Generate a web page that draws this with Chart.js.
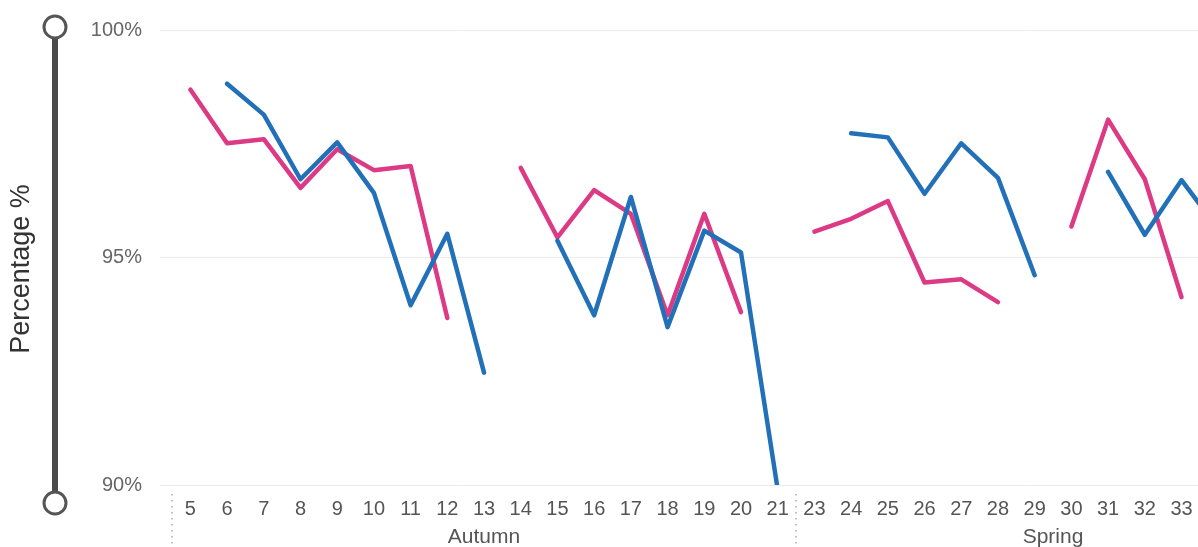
<!DOCTYPE html>
<html>
<head>
<meta charset="utf-8">
<title>Percentage by week</title>
<script src="https://cdn.jsdelivr.net/npm/chart.js@4"></script>
<style>
    html, body { margin: 0; padding: 0; background: #fff; overflow: hidden; }
    #wrap { position: relative; width: 1320px; height: 547px; }
</style>
</head>
<body>
<div id="wrap"><canvas id="percentChart"></canvas></div>

<script>

// =====================
// DATA
// =====================

const CATEGORIES = [
    '5', '6', '7', '8', '9', '10', '11', '12', '13', '14', '15', '16', '17', '18', '19', '20', '21',
    '23', '24', '25', '26', '27', '28', '29', '30', '31', '32', '33', '34', '35', '36'
];

const SERIES_BLUE = [
    null, 98.82, 98.14, 96.72, 97.53, 96.42, 93.95, 95.52, 92.47, null, 95.37, 93.73, 96.33, 93.47, 95.59, 95.11, 89.9,
    null, 97.73, 97.64, 96.40, 97.51, 96.75, 94.61, null, 96.88, 95.50, 96.70, 95.63, null, null
];

const SERIES_PINK = [
    98.69, 97.51, 97.60, 96.53, 97.38, 96.92, 97.01, 93.67, null, 96.97, 95.44, 96.48, 95.96, 93.73, 95.96, 93.80, null,
    95.57, 95.85, 96.24, 94.45, 94.52, 94.02, null, 95.68, 98.03, 96.72, 94.13, null, null, null
];

const Y_TICKS = [90, 95, 100];

const GROUP_NAMES = ['Autumn', 'Spring'];
const GROUP_FIRST = ['5', '23'];
const GROUP_LAST = ['21', '36'];

const Y_TITLE = 'Percentage %';

const FONT = "'Liberation Sans', Arial, sans-serif";


// =====================
// DECORATIONS
// =====================

const decorPlugin = {
    id: 'decor',
    beforeDraw(chart) {
        const ctx = chart.ctx;
        ctx.save();

        // slider-looking bar on the left
        const sx = 55, top = 27, bottom = 503;
        ctx.strokeStyle = '#4a4a4a';
        ctx.lineWidth = 6;
        ctx.beginPath();
        ctx.moveTo(sx, top);
        ctx.lineTo(sx, bottom);
        ctx.stroke();

        ctx.fillStyle = '#fff';
        ctx.strokeStyle = '#555';
        ctx.lineWidth = 3;
        [top, bottom].forEach(y => {
            ctx.beginPath();
            ctx.arc(sx, y, 11, 0, Math.PI * 2);
            ctx.fill();
            ctx.stroke();
        });

        // axis title
        ctx.translate(22, 269);
        ctx.rotate(-Math.PI / 2);
        ctx.fillStyle = '#333';
        ctx.font = '27px ' + FONT;
        ctx.textAlign = 'center';
        ctx.textBaseline = 'middle';
        ctx.fillText(Y_TITLE, 0, 0);

        ctx.restore();
    },
    afterDraw(chart) {
        const ctx = chart.ctx;
        const x = chart.scales.x;
        const half = (x.getPixelForValue(1) - x.getPixelForValue(0)) / 2;

        ctx.save();
        GROUP_NAMES.forEach((name, i) => {
            const a = CATEGORIES.indexOf(GROUP_FIRST[i]);
            const b = CATEGORIES.indexOf(GROUP_LAST[i]);
            const x0 = x.getPixelForValue(a) - half;
            const x1 = x.getPixelForValue(b) + half;

            // dotted separator
            ctx.strokeStyle = '#aaa';
            ctx.lineWidth = 1.5;
            ctx.setLineDash([1.5, 4.5]);
            ctx.beginPath();
            ctx.moveTo(Math.round(x0), 494);
            ctx.lineTo(Math.round(x0), 547);
            ctx.stroke();
            ctx.setLineDash([]);

            // group label
            ctx.fillStyle = '#555';
            ctx.font = '21px ' + FONT;
            ctx.textAlign = 'center';
            ctx.textBaseline = 'middle';
            ctx.fillText(name, (x0 + x1) / 2, 537);
        });
        ctx.restore();
    }
};


// =====================
// CHART
// =====================

document.addEventListener("DOMContentLoaded", function () {

    new Chart(document.getElementById('percentChart'), {
        type: 'line',
        data: {
            labels: CATEGORIES,
            datasets: [{
                label: 'Blue',
                data: SERIES_BLUE,
                borderColor: '#2271b8',
                borderWidth: 4.5,
                pointRadius: 0,
                tension: 0,
                borderCapStyle: 'round',
                borderJoinStyle: 'round'
            }, {
                label: 'Pink',
                data: SERIES_PINK,
                borderColor: '#dc3a84',
                borderWidth: 4.5,
                pointRadius: 0,
                tension: 0,
                borderCapStyle: 'round',
                borderJoinStyle: 'round'
            }]
        },
        options: {
            responsive: true,
            maintainAspectRatio: false,
            animation: false,
            layout: { padding: { left: 0, right: 10, top: 27, bottom: 0 } },
            plugins: {
                legend: { display: false },
                tooltip: { enabled: false }
            },
            scales: {
                x: {
                    offset: true,
                    grid: { display: false, drawTicks: false, offset: true },
                    border: { display: false },
                    ticks: {
                        autoSkip: false,
                        maxRotation: 0,
                        padding: 12,
                        color: '#555',
                        font: { family: FONT, size: 20 }
                    },
                    afterFit: function (scale) { scale.height = 62; }
                },
                y: {
                    min: 90,
                    max: 100,
                    afterBuildTicks: function (scale) {
                        scale.ticks = Y_TICKS.map(v => ({ value: v }));
                    },
                    grid: { color: '#ececec', lineWidth: 1, drawTicks: true, tickLength: 12 },
                    border: { display: false },
                    ticks: {
                        padding: 18,
                        color: '#666',
                        font: { family: FONT, size: 20 },
                        callback: function (value) { return value + '%'; }
                    },
                    afterFit: function (scale) { scale.width = 172; }
                }
            }
        },
        plugins: [decorPlugin]
    });

});

</script>
</body>
</html>
